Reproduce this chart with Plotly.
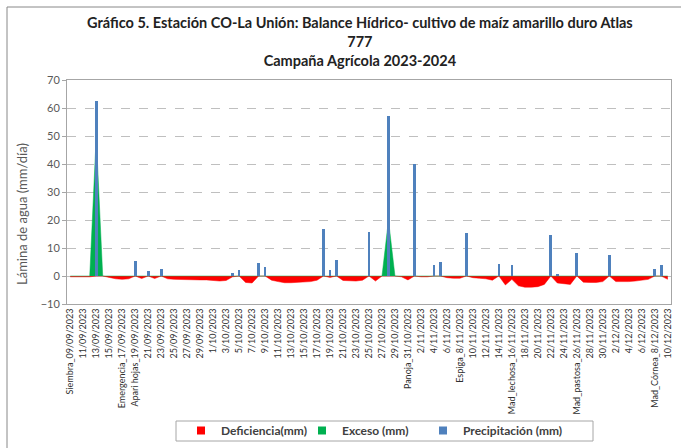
import plotly.graph_objects as go
import pandas as pd

# ---------------- data ----------------
fechas = pd.date_range("2023-09-09", "2023-12-10", freq="D")
dias = list(range(len(fechas)))

# tick labels (every other day)
tick_labels = [
    "Siembra_09/09/2023", "11/09/2023", "13/09/2023", "15/09/2023",
    "Emergencia_17/09/2023", "Apari hojas_19/09/2023", "21/09/2023", "23/09/2023",
    "25/09/2023", "27/09/2023", "29/09/2023", "1/10/2023", "3/10/2023",
    "5/10/2023", "7/10/2023", "9/10/2023", "11/10/2023", "13/10/2023",
    "15/10/2023", "17/10/2023", "19/10/2023", "21/10/2023", "23/10/2023",
    "25/10/2023", "27/10/2023", "29/10/2023", "Panoja_31/10/2023", "2/11/2023",
    "4/11/2023", "6/11/2023", "Espiga_8/11/2023", "10/11/2023", "12/11/2023",
    "14/11/2023", "Mad_lechosa_16/11/2023", "18/11/2023", "20/11/2023",
    "22/11/2023", "24/11/2023", "Mad_pastosa_26/11/2023", "28/11/2023",
    "30/11/2023", "2/12/2023", "4/12/2023", "6/12/2023", "Mad_Córnea_8/12/2023",
    "10/12/2023",
]

precipitacion = [
    0, 0, 0, 0, 62.5, 0, 0, 0, 0, 0,        # 9/9 - 18/9
    5.2, 0, 1.7, 0, 2.4, 0, 0, 0, 0, 0,     # 19/9 - 28/9
    0, 0, 0, 0, 0, 1.1, 2.3, 0, 0, 4.5,     # 29/9 - 8/10
    3.1, 0, 0, 0, 0, 0, 0, 0, 0, 16.7,      # 9/10 - 18/10
    2.0, 5.8, 0, 0, 0, 0, 15.6, 0, 0, 57.3, # 19/10 - 28/10
    0, 0, 0, 40.0, 0, 0, 3.9, 5.1, 0, 0,    # 29/10 - 7/11
    0, 15.4, 0, 0, 0, 0, 4.3, 0, 3.8, 0,    # 8/11 - 17/11
    0, 0, 0, 0, 14.5, 0.7, 0, 0, 8.3, 0,    # 18/11 - 27/11
    0, 0, 0, 7.6, 0, 0, 0, 0, 0, 0,         # 28/11 - 7/12
    2.6, 3.8, 0,                            # 8/12 - 10/12
]

exceso = [
    0, 0, 0, 0, 50.0, 0, 0, 0, 0, 0,
    0, 0, 0, 0, 0, 0, 0, 0, 0, 0,
    0, 0, 0, 0, 0, 0, 0, 0, 0, 0,
    0, 0, 0, 0, 0, 0, 0, 0, 0, 0,
    0, 0, 0, 0, 0, 0, 0, 0, 0, 20.0,
    0, 0, 0, 0, 0, 0, 0, 0, 0, 0,
    0, 0, 0, 0, 0, 0, 0, 0, 0, 0,
    0, 0, 0, 0, 0, 0, 0, 0, 0, 0,
    0, 0, 0, 0, 0, 0, 0, 0, 0, 0,
    0, 0, 0,
]

deficiencia = [
    -0.3, -0.3, -0.3, -0.3, 0, 0, -0.5, -1.0, -1.2, -1.0,
    0, -0.9, 0, -0.9, 0, -1.0, -1.2, -1.3, -1.3, -1.3,
    -1.4, -1.4, -1.6, -1.8, -1.6, -0.3, 0, -2.3, -2.5, 0,
    0, -1.5, -2.0, -2.4, -2.4, -2.3, -2.2, -2.0, -1.5, 0,
    -0.5, 0, -1.6, -1.8, -1.8, -1.5, 0, -1.8, 0, 0,
    0, -0.3, -1.4, 0, -0.3, -0.3, 0, 0, -0.6, -0.8,
    -0.8, 0, -0.6, -0.8, -1.0, -1.5, 0, -3.2, -1.2, -3.5,
    -4.0, -4.0, -3.8, -3.0, 0, -2.5, -2.8, -3.0, 0, -2.2,
    -2.3, -2.3, -2.0, 0, -2.0, -2.1, -2.0, -1.8, -1.5, -1.2,
    0, 0, -1.2,
]

titulo = ("Gráfico 5. Estación CO-La Unión: Balance Hídrico- cultivo de maíz amarillo duro Atlas"
          "<br>777<br>Campaña Agrícola 2023-2024")
series_nombres = ["Deficiencia(mm)", "Exceso (mm)", "Precipitación (mm)"]
series_colores = ["#FF0000", "#00B050", "#4F81BD"]

# ---------------- figure ----------------
FONT = "Lato, 'Open Sans', sans-serif"
W, H = 681, 448
L, R, T, B = 67, 10, 80, 144
pw, ph = W - L - R, H - T - B

def px_x(px):
    return (px - L) / pw

def px_y(py):
    return (H - B - py) / ph

fig = go.Figure()

fig.add_trace(go.Scatter(
    x=dias, y=deficiencia, mode="lines", fill="tozeroy",
    line=dict(color=series_colores[0], width=0.5),
    fillcolor=series_colores[0], showlegend=False, name=series_nombres[0]))
fig.add_trace(go.Scatter(
    x=dias, y=exceso, mode="lines", fill="tozeroy",
    line=dict(color=series_colores[1], width=0.5),
    fillcolor=series_colores[1], showlegend=False, name=series_nombres[1]))
fig.add_trace(go.Bar(
    x=dias, y=precipitacion, width=0.42, marker_color=series_colores[2],
    marker_line_width=0, xaxis="x2", yaxis="y2", showlegend=False,
    name=series_nombres[2]))

# legend entries (square markers like the original)
for nm, col in zip(series_nombres, series_colores):
    fig.add_trace(go.Scatter(x=[None], y=[None], mode="markers", name=nm,
                             marker=dict(symbol="square", size=8, color=col)))
# invisible spacer entry so the last legend label is not clipped
fig.add_trace(go.Scatter(x=[None], y=[None], mode="markers", name=" ",
                         marker=dict(size=1, color="rgba(0,0,0,0)")))

tickvals = dias[::2]

fig.update_layout(
    width=W, height=H,
    margin=dict(l=L, r=R, t=T, b=B, autoexpand=False),
    paper_bgcolor="white", plot_bgcolor="white",
    font=dict(family=FONT, color="#404040"),
    xaxis=dict(
        range=[-0.5, 92.5], tickmode="array", tickvals=tickvals,
        ticktext=tick_labels, tickangle=-90,
        tickfont=dict(size=9, color="#303030"),
        showgrid=False, zeroline=False, showline=True, linecolor="#A6A6A6",
        mirror=True, ticks="", fixedrange=True,
    ),
    yaxis=dict(
        range=[-10, 70], dtick=10, tick0=0,
        tickfont=dict(size=11, color="#595959"),
        showgrid=True, gridcolor="#BFBFBF", griddash="dash", gridwidth=1,
        zeroline=True, zerolinecolor="#BFBFBF", zerolinewidth=1,
        showline=True, linecolor="#A6A6A6", mirror=True,
        ticks="outside", ticklen=4, tickcolor="#A6A6A6",
    ),
    xaxis2=dict(overlaying="x", range=[-0.5, 92.5], visible=False),
    yaxis2=dict(overlaying="y", range=[-10, 70], visible=False),
    bargap=0,
    legend=dict(
        orientation="h", x=px_x(181), y=px_y(416), xanchor="left", yanchor="top",
        font=dict(size=12, color="#404040", family=FONT, weight="bold"),
        bgcolor="rgba(0,0,0,0)", borderwidth=0,
        entrywidth=76, entrywidthmode="pixels",
        itemwidth=30,
    ),
    annotations=[
        dict(text=titulo, x=px_x(360), y=px_y(12), xref="paper", yref="paper",
             xanchor="center", yanchor="top", showarrow=False,
             font=dict(family=FONT, size=14.5, color="#222222", weight="bold")),
        dict(text="Lámina de agua (mm/día)", textangle=-90,
             x=px_x(22), y=px_y(214), xref="paper", yref="paper",
             xanchor="center", yanchor="middle",
             showarrow=False, font=dict(size=13, color="#595959")),
    ],
    shapes=[
        dict(type="rect", xref="paper", yref="paper",
             x0=px_x(176), x1=px_x(593), y0=px_y(441), y1=px_y(421),
             line=dict(color="#A6A6A6", width=1)),
        dict(type="rect", xref="paper", yref="paper",
             x0=px_x(7), x1=px_x(W + 20), y0=px_y(H + 20), y1=px_y(7),
             line=dict(color="#888888", width=1)),
    ],
)

fig.write_html("out.html", post_script="document.body.style.margin='0px';",
               config={"displayModeBar": False})
